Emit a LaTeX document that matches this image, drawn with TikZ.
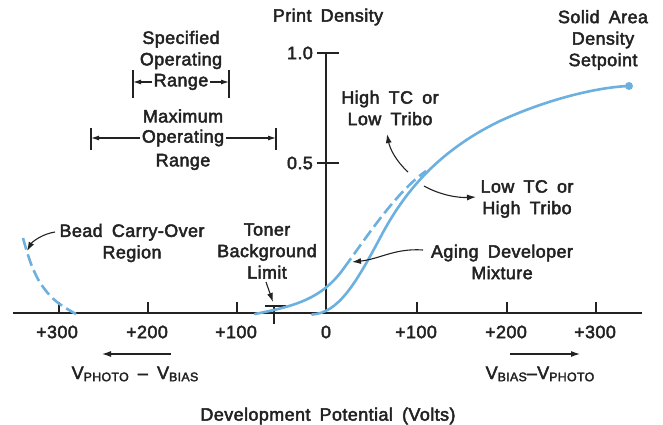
\documentclass[tikz,border=0pt]{standalone}
\usepackage{fontspec}
\setmainfont[LetterSpace=2.5,WordSpace=1.7,FakeBold=2.6]{Liberation Sans}
\usetikzlibrary{arrows.meta}
\definecolor{ink}{HTML}{222222}
\definecolor{curve}{HTML}{6CB0E0}
\newcommand\lblfont{\fontsize{17.9}{21.5}\selectfont}
\newcommand\subfont{\fontsize{12.4}{12}\selectfont}
\newcommand\Vsub[1]{V\raisebox{-2.2pt}{\subfont #1}}
\begin{document}
\begin{tikzpicture}[x=1pt,y=-1pt,
  lbl/.style={font=\lblfont, text=ink, align=center, inner sep=0pt},
  axisline/.style={draw=ink, line width=1.3pt},
  tickline/.style={draw=ink, line width=1.2pt},
  pointer/.style={draw=ink, line width=1.1pt, -{Latex[length=9pt,width=6pt]}},
  rangearrow/.style={draw=ink, line width=1.1pt, -{Latex[length=8pt,width=5pt]}},
  densecurve/.style={draw=curve, line width=2.6pt, line cap=round},
  dashcurve/.style={draw=curve, line width=2.6pt, dash pattern=on 12pt off 5pt}]
\useasboundingbox (0,0) rectangle (663,425);

% axes
\coordinate (xl) at (13,313);
\coordinate (xr) at (642,313);
\coordinate (ytop) at (326,53);
\coordinate (yorg) at (326,313);
\draw[axisline] (xl) -- (xr);
\draw[axisline] (yorg) -- (ytop);

% ticks on the voltage axis
\foreach \x in {59,148,237,417,507,596}
  \draw[tickline] (\x,313) -- (\x,302);
% ticks on the density axis
\draw[tickline] (317,53) -- (339,53);
\draw[tickline] (317,163) -- (339,163);

% axis labels
\node[lbl] (pd) at (328,17) {Print Density};
\node[lbl, anchor=east] (d10) at (313,53) {1.0};
\node[lbl, anchor=east] (d05) at (313,163) {0.5};
\node[lbl] (t300l) at (57,332) {+300};
\node[lbl] (t200l) at (147,332) {+200};
\node[lbl] (t100l) at (236,332) {+100};
\node[lbl] (t0) at (326,332) {0};
\node[lbl] (t100r) at (416,332) {+100};
\node[lbl] (t200r) at (506,332) {+200};
\node[lbl] (t300r) at (595,332) {+300};
\node[lbl] (dev) at (328,416) {Development Potential (Volts)};

% polarity arrows
\coordinate (pl1) at (171,354);
\coordinate (pl2) at (102,354);
\coordinate (pr1) at (510,354);
\coordinate (pr2) at (580,354);
\draw[pointer] (pl1) -- (pl2);
\draw[pointer] (pr1) -- (pr2);
\node[lbl] (vpb) at (135,374) {\Vsub{PHOTO} -- \Vsub{BIAS}};
\node[lbl] (vbp) at (540,374) {\Vsub{BIAS}--\Vsub{PHOTO}};

% specified operating range
\node[lbl] (spec) at (181,50) {Specified\\Operating};
\node[lbl, inner xsep=1.5pt] (specR) at (181,82) {Range};
\coordinate (sbl) at (133,82);
\coordinate (sbr) at (229,82);
\draw[tickline] (133,70) -- (133,98);
\draw[tickline] (229,70) -- (229,98);
\draw[rangearrow] (specR.west) -- (sbl);
\draw[rangearrow] (specR.east) -- (sbr);

% maximum operating range
\node[lbl] (maxA) at (183,116) {Maximum};
\node[lbl, inner xsep=1.5pt] (maxO) at (183,138) {Operating};
\node[lbl] (maxR) at (183,162) {Range};
\coordinate (mbl) at (91,138);
\coordinate (mbr) at (276,138);
\draw[tickline] (91,128) -- (91,150);
\draw[tickline] (276,128) -- (276,150);
\draw[rangearrow] (maxO.west) -- (mbl);
\draw[rangearrow] (maxO.east) -- (mbr);

% toner background limit mark
\draw[tickline] (265,306) -- (286,306);
\draw[tickline] (274,306) -- (274,324);

% bead carry-over curve
\draw[dashcurve] plot[smooth, tension=0.7] coordinates
  {(23,238) (28,255) (34,271) (43,287) (57,302) (76,314)};

% upper (new developer) curve: solid foot, dashed rise
\draw[densecurve] (255,314) .. controls (295,306) and (322,299) .. (344,268);
\draw[dashcurve] (344,268) .. controls (366,238) and (396,192) .. (426,171);

% lower (aged developer) curve up to the setpoint
\draw[densecurve] (312,314.5) .. controls (338,313) and (355,285) .. (380,238)
  .. controls (405,190) and (440,150) .. (500,121)
  .. controls (550,98) and (600,87) .. (629,86);
\coordinate (setpt) at (629,86);
\fill[curve] (setpt) circle (4pt);

% curve annotations
\node[lbl] (solid) at (603,40) {Solid Area\\Density\\Setpoint};
\node[lbl] (hightc) at (390,108) {High TC or\\Low Tribo};
\node[lbl] (lowtc) at (527,199) {Low TC or\\High Tribo};
\node[lbl] (aging) at (502,262) {Aging Developer\\Mixture};
\node[lbl] (bead) at (132,243) {Bead Carry-Over\\Region};
\node[lbl] (toner) at (267,251) {Toner\\Background\\Limit};

% annotation pointers
\coordinate (beadS) at (55,232);
\coordinate (beadE) at (27,251);
\draw[pointer] (beadS) .. controls (42,234) and (32,242) .. (beadE);
\coordinate (tonerS) at (266,282);
\coordinate (tonerE) at (273,302);
\draw[pointer] (tonerS) -- (tonerE);
\coordinate (hiS) at (408,172);
\coordinate (hiE) at (387,134);
\draw[pointer] (hiS) .. controls (396,161) and (390,149) .. (hiE);
\coordinate (loS) at (424,186);
\coordinate (loE) at (476,197);
\draw[pointer] (loS) .. controls (440,195) and (458,198) .. (loE);
\coordinate (agS) at (423,250);
\coordinate (agE) at (352,262);
\draw[pointer] (agS) .. controls (395,248) and (380,259) .. (agE);
\end{tikzpicture}
\end{document}
